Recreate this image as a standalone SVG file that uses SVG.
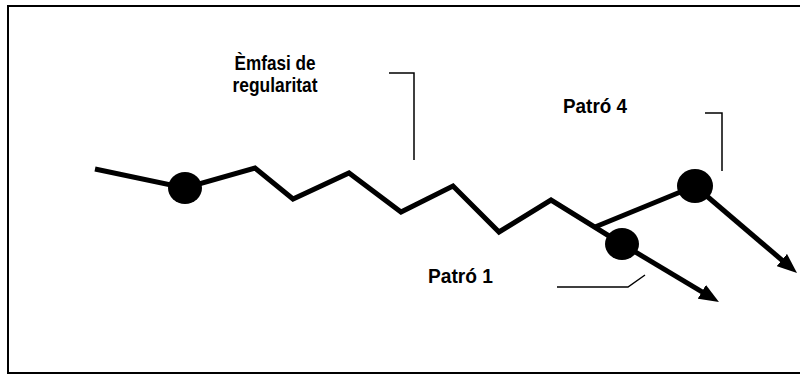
<svg xmlns="http://www.w3.org/2000/svg" width="800" height="374" viewBox="0 0 800 374">
<style>
.main{fill:none;stroke:#000;stroke-width:5;stroke-linejoin:miter}
.call{fill:none;stroke:#000;stroke-width:1.5}
.dot{fill:#000}
.lbl{font-family:"Liberation Sans",Arial,sans-serif;font-weight:bold;font-size:20.5px;fill:#000}
</style>
<defs>
<marker id="ah" markerUnits="userSpaceOnUse" viewBox="0 0 20 16" refX="10" refY="8" markerWidth="20" markerHeight="16" orient="auto">
<path d="M0,0 L20,8 L0,16 z" fill="#000"/>
</marker>
</defs>
<rect x="8" y="6" width="800" height="367" fill="#fff" stroke="#000" stroke-width="2"/>
<g id="connectors">
<polyline class="main" points="95,169 185,188 255,168 293,199 349,173 401,212 453,186 499,232 551,200 622,244"/>
<line class="main" x1="622" y1="244" x2="710.4" y2="296.9" marker-end="url(#ah)"/>
<polyline class="main" points="595,227 695,186"/>
<line class="main" x1="695" y1="186" x2="789.4" y2="266.5" marker-end="url(#ah)"/>
<polyline class="call" points="389,73 414,73 414,160"/>
<polyline class="call" points="705,113 722,113 722,171"/>
<polyline class="call" points="557,287 628,287 645,275"/>
</g>
<g id="node-start"><ellipse class="dot" cx="185" cy="188" rx="17" ry="16"/></g>
<g id="node-patro1"><ellipse class="dot" cx="622" cy="244" rx="17" ry="16"/></g>
<g id="node-patro4"><ellipse class="dot" cx="695" cy="186" rx="18" ry="17"/></g>
<g id="label-emfasi">
<text class="lbl" x="275" y="70" text-anchor="middle" textLength="81" lengthAdjust="spacingAndGlyphs">Èmfasi de</text>
<text class="lbl" x="275" y="92" text-anchor="middle" textLength="85" lengthAdjust="spacingAndGlyphs">regularitat</text>
</g>
<g id="label-patro4"><text class="lbl" x="563" y="113" textLength="64" lengthAdjust="spacingAndGlyphs">Patró 4</text></g>
<g id="label-patro1"><text class="lbl" x="428" y="283" textLength="65" lengthAdjust="spacingAndGlyphs">Patró 1</text></g>
</svg>
